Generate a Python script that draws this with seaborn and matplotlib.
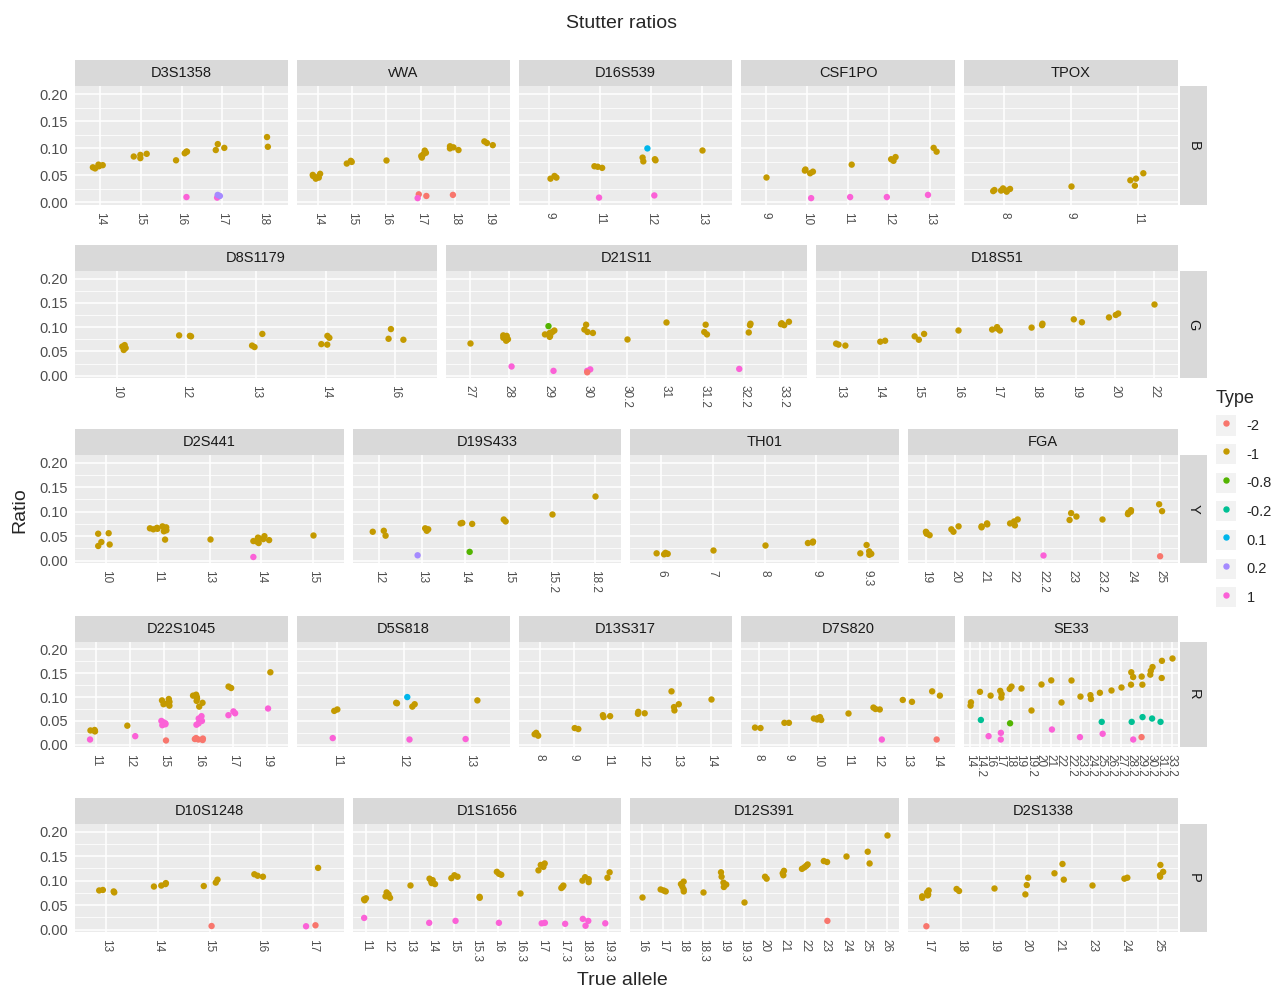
import numpy as np
import pandas as pd
import matplotlib
matplotlib.use("Agg")
import matplotlib.pyplot as plt
import matplotlib.patches as mpatches
from matplotlib.lines import Line2D
from matplotlib.ticker import NullLocator
import seaborn as sns

# ---------------------------------------------------------------- data
# stutter type levels and their hue colours
TYPES = ["-2", "-1", "-0.8", "-0.2", "0.1", "0.2", "1"]
TYPE_COLORS = ["#F8766D", "#C49A00", "#53B400", "#00C094", "#00B6EB", "#A58AFF", "#FB61D7"]

# dye channel of each row and the markers typed in it
DYES = ["B", "G", "Y", "R", "P"]
ROW_MARKERS = [
    ["D3S1358", "vWA", "D16S539", "CSF1PO", "TPOX"],
    ["D8S1179", "D21S11", "D18S51"],
    ["D2S441", "D19S433", "TH01", "FGA"],
    ["D22S1045", "D5S818", "D13S317", "D7S820", "SE33"],
    ["D10S1248", "D1S1656", "D12S391", "D2S1338"],
]

# observed stutter ratios: true allele -> stutter type -> ratios
D3S1358 = {
    "14": {"-1": [0.063, 0.065, 0.067, 0.069, 0.070]},
    "15": {"-1": [0.082, 0.085, 0.088, 0.090]},
    "16": {"-1": [0.094, 0.091, 0.078, 0.094], "1": [0.010]},
    "17": {"-1": [0.108, 0.101, 0.097], "1": [0.009], "0.2": [0.012, 0.014]},
    "18": {"-1": [0.121, 0.103]},
}
vWA = {
    "14": {"-1": [0.044, 0.047, 0.049, 0.051, 0.053, 0.046]},
    "15": {"-1": [0.072, 0.075, 0.077]},
    "16": {"-1": [0.079]},
    "17": {"-1": [0.096, 0.089, 0.083, 0.086, 0.092], "-2": [0.012, 0.015], "1": [0.008]},
    "18": {"-1": [0.097, 0.100, 0.102, 0.104], "-2": [0.014]},
    "19": {"-1": [0.113, 0.110, 0.106]},
}
D16S539 = {
    "9": {"-1": [0.046, 0.049, 0.044]},
    "11": {"-1": [0.064, 0.066, 0.067], "1": [0.009]},
    "12": {"-1": [0.080, 0.076, 0.083, 0.078], "0.1": [0.100], "1": [0.013]},
    "13": {"-1": [0.097]},
}
CSF1PO = {
    "9": {"-1": [0.048]},
    "10": {"-1": [0.054, 0.057, 0.061, 0.059], "1": [0.008]},
    "11": {"-1": [0.070], "1": [0.010]},
    "12": {"-1": [0.077, 0.080, 0.084], "1": [0.010]},
    "13": {"-1": [0.101, 0.094], "1": [0.014]},
}
TPOX = {
    "8": {"-1": [0.020, 0.022, 0.024, 0.023, 0.021, 0.025, 0.026, 0.022]},
    "9": {"-1": [0.030]},
    "11": {"-1": [0.054, 0.044, 0.031, 0.041]},
}
D8S1179 = {
    "10": {"-1": [0.053, 0.063, 0.060, 0.057]},
    "12": {"-1": [0.082, 0.081, 0.083]},
    "13": {"-1": [0.086, 0.062, 0.059]},
    "14": {"-1": [0.065, 0.064, 0.078, 0.082]},
    "16": {"-1": [0.096, 0.076, 0.074]},
}
D21S11 = {
    "27": {"-1": [0.067]},
    "28": {"-1": [0.072, 0.075, 0.078, 0.080, 0.083, 0.082], "1": [0.019]},
    "29": {"-1": [0.093, 0.088, 0.085, 0.082, 0.080, 0.090], "-0.8": [0.102], "1": [0.010]},
    "30": {"-1": [0.105, 0.095, 0.090, 0.088], "1": [0.013, 0.010], "-2": [0.007]},
    "30.2": {"-1": [0.076]},
    "31": {"-1": [0.111]},
    "31.2": {"-1": [0.085, 0.090, 0.105]},
    "32.2": {"-1": [0.107, 0.104, 0.089], "1": [0.014]},
    "33.2": {"-1": [0.104, 0.108, 0.111, 0.106]},
}
D18S51 = {
    "13": {"-1": [0.062, 0.066, 0.064]},
    "14": {"-1": [0.072, 0.070]},
    "15": {"-1": [0.086, 0.074, 0.081]},
    "16": {"-1": [0.095]},
    "17": {"-1": [0.093, 0.097, 0.100, 0.095]},
    "18": {"-1": [0.099, 0.104, 0.107]},
    "19": {"-1": [0.110, 0.116]},
    "20": {"-1": [0.120, 0.125, 0.128]},
    "22": {"-1": [0.148]},
}
D2S441 = {
    "10": {"-1": [0.056, 0.055, 0.038, 0.033, 0.030]},
    "11": {"-1": [0.060, 0.062, 0.064, 0.066, 0.068, 0.070, 0.067, 0.065, 0.043]},
    "13": {"-1": [0.044]},
    "14": {"-1": [0.036, 0.040, 0.044, 0.047, 0.050, 0.042, 0.046, 0.039], "1": [0.0075]},
    "15": {"-1": [0.053]},
}
D19S433 = {
    "12": {"-1": [0.061, 0.059, 0.051]},
    "13": {"-1": [0.066, 0.064, 0.061], "0.2": [0.011]},
    "14": {"-1": [0.076, 0.075, 0.077], "-0.8": [0.018]},
    "15": {"-1": [0.084, 0.080]},
    "15.2": {"-1": [0.095]},
    "18.2": {"-1": [0.132]},
}
TH01 = {
    "6": {"-1": [0.013, 0.015, 0.016, 0.014]},
    "7": {"-1": [0.022]},
    "8": {"-1": [0.032]},
    "9": {"-1": [0.039, 0.037, 0.036]},
    "9.3": {"-1": [0.032, 0.015, 0.012, 0.014, 0.019]},
}
FGA = {
    "19": {"-1": [0.055, 0.057, 0.052, 0.059]},
    "20": {"-1": [0.070, 0.059, 0.064]},
    "21": {"-1": [0.070, 0.074, 0.068, 0.076]},
    "22": {"-1": [0.084, 0.080, 0.076, 0.072]},
    "22.2": {"1": [0.011]},
    "23": {"-1": [0.097, 0.090, 0.083]},
    "23.2": {"-1": [0.086]},
    "24": {"-1": [0.098, 0.100, 0.103, 0.095]},
    "25": {"-1": [0.115, 0.101], "-2": [0.009]},
}
D22S1045 = {
    "11": {"-1": [0.030, 0.029, 0.031, 0.028], "1": [0.011]},
    "12": {"-1": [0.040], "1": [0.018]},
    "15": {"-1": [0.096, 0.090, 0.087, 0.085, 0.082, 0.093],
           "1": [0.043, 0.045, 0.047, 0.050, 0.041], "-2": [0.009]},
    "16": {"-1": [0.105, 0.100, 0.097, 0.092, 0.088, 0.080, 0.103],
           "1": [0.060, 0.055, 0.050, 0.045, 0.042],
           "-2": [0.010, 0.012, 0.014, 0.011, 0.013]},
    "17": {"-1": [0.122, 0.119], "1": [0.070, 0.066, 0.062]},
    "19": {"-1": [0.152], "1": [0.076]},
}
D5S818 = {
    "11": {"-1": [0.074, 0.071], "1": [0.014]},
    "12": {"-1": [0.080, 0.085, 0.088, 0.087], "0.1": [0.100], "1": [0.011]},
    "13": {"-1": [0.093], "1": [0.012]},
}
D13S317 = {
    "8": {"-1": [0.025, 0.022, 0.019]},
    "9": {"-1": [0.035, 0.033]},
    "11": {"-1": [0.062, 0.058, 0.060]},
    "12": {"-1": [0.066, 0.069, 0.065]},
    "13": {"-1": [0.112, 0.085, 0.072, 0.079]},
    "14": {"-1": [0.096]},
}
D7S820 = {
    "8": {"-1": [0.035, 0.036]},
    "9": {"-1": [0.046, 0.046]},
    "10": {"-1": [0.055, 0.058, 0.052, 0.056, 0.053]},
    "11": {"-1": [0.067]},
    "12": {"-1": [0.074, 0.078, 0.075], "1": [0.011]},
    "13": {"-1": [0.090, 0.094]},
    "14": {"-1": [0.112, 0.103], "-2": [0.011]},
}
SE33 = {
    "14": {"-1": [0.089, 0.082]},
    "14.2": {"-1": [0.111], "-0.2": [0.052]},
    "16": {"-1": [0.103], "1": [0.018]},
    "17": {"-1": [0.113, 0.106, 0.099], "1": [0.025, 0.011]},
    "18": {"-1": [0.122, 0.117], "-0.8": [0.045]},
    "19": {"-1": [0.119]},
    "19.2": {"-1": [0.072]},
    "20": {"-1": [0.128]},
    "21": {"-1": [0.135], "1": [0.032]},
    "22": {"-1": [0.090]},
    "22.2": {"-1": [0.136]},
    "23.2": {"-1": [0.101], "1": [0.016]},
    "24.2": {"-1": [0.104, 0.096]},
    "25.2": {"-1": [0.109], "-0.2": [0.048], "1": [0.023]},
    "26.2": {"-1": [0.115]},
    "27.2": {"-1": [0.121]},
    "28.2": {"-1": [0.126, 0.142, 0.152], "-0.2": [0.048], "1": [0.011]},
    "29.2": {"-1": [0.126, 0.143], "-0.2": [0.058], "-2": [0.016]},
    "30.2": {"-1": [0.163, 0.155, 0.147], "-0.2": [0.055]},
    "31.2": {"-1": [0.176, 0.140], "-0.2": [0.048]},
    "33.2": {"-1": [0.181]},
}
D10S1248 = {
    "13": {"-1": [0.078, 0.080, 0.076, 0.081]},
    "14": {"-1": [0.088, 0.093, 0.095, 0.090]},
    "15": {"-1": [0.102, 0.089, 0.096], "-2": [0.0075]},
    "16": {"-1": [0.110, 0.108, 0.113]},
    "17": {"-1": [0.126], "-2": [0.009], "1": [0.007]},
}
D1S1656 = {
    "11": {"-1": [0.062, 0.060, 0.064], "1": [0.024]},
    "12": {"-1": [0.076, 0.072, 0.068, 0.065]},
    "13": {"-1": [0.092]},
    "14": {"-1": [0.095, 0.098, 0.101, 0.104, 0.093], "1": [0.014]},
    "15": {"-1": [0.111, 0.108, 0.105], "1": [0.018]},
    "15.3": {"-1": [0.067, 0.065]},
    "16": {"-1": [0.118, 0.114, 0.112], "1": [0.014]},
    "16.3": {"-1": [0.075]},
    "17": {"-1": [0.135, 0.128, 0.121, 0.132], "1": [0.014, 0.013]},
    "17.3": {"-1": [0.090, 0.087, 0.085], "1": [0.012]},
    "18.3": {"-1": [0.107, 0.103, 0.100, 0.097], "1": [0.022, 0.018, 0.008]},
    "19.3": {"-1": [0.117, 0.106], "1": [0.013]},
}
D12S391 = {
    "16": {"-1": [0.067]},
    "17": {"-1": [0.078, 0.080, 0.082]},
    "18": {"-1": [0.098, 0.093, 0.088, 0.082, 0.078]},
    "18.3": {"-1": [0.077]},
    "19": {"-1": [0.117, 0.108, 0.096, 0.087, 0.092]},
    "19.3": {"-1": [0.057]},
    "20": {"-1": [0.108, 0.104]},
    "21": {"-1": [0.120, 0.115, 0.111]},
    "22": {"-1": [0.124, 0.127, 0.130, 0.133]},
    "23": {"-1": [0.140, 0.138], "-2": [0.018]},
    "24": {"-1": [0.150]},
    "25": {"-1": [0.159, 0.135]},
    "26": {"-1": [0.194]},
}
D2S1338 = {
    "17": {"-1": [0.080, 0.076, 0.072, 0.068, 0.065, 0.070], "-2": [0.007]},
    "18": {"-1": [0.083, 0.079]},
    "19": {"-1": [0.086]},
    "20": {"-1": [0.106, 0.091, 0.072]},
    "21": {"-1": [0.134, 0.115, 0.102]},
    "23": {"-1": [0.092]},
    "24": {"-1": [0.106, 0.104]},
    "25": {"-1": [0.132, 0.118, 0.111, 0.108]},
}

MARKER_DATA = {
    "D3S1358": D3S1358, "vWA": vWA, "D16S539": D16S539, "CSF1PO": CSF1PO, "TPOX": TPOX,
    "D8S1179": D8S1179, "D21S11": D21S11, "D18S51": D18S51,
    "D2S441": D2S441, "D19S433": D19S433, "TH01": TH01, "FGA": FGA,
    "D22S1045": D22S1045, "D5S818": D5S818, "D13S317": D13S317, "D7S820": D7S820, "SE33": SE33,
    "D10S1248": D10S1248, "D1S1656": D1S1656, "D12S391": D12S391, "D2S1338": D2S1338,
}

Y_TICKS = [0.00, 0.05, 0.10, 0.15, 0.20]
Y_MINOR = [0.025, 0.075, 0.125, 0.175]

# ---------------------------------------------------------------- layout (pixels)
W, H, DPI = 1282, 988, 100
PANEL_X = {
    5: [(75, 288), (297, 510), (519, 732), (741, 955), (964, 1178)],
    3: [(75, 437), (446, 807), (816, 1178)],
    4: [(75, 344), (353, 621), (630, 899), (908, 1178)],
}
ROW_Y = [(86, 205), (271, 378), (455, 563), (642, 747), (824, 932)]
STRIP_H = 26
RSTRIP_X = (1180, 1207)
Y_LIM = (-0.0047, 0.2155)

sns.set_style("darkgrid")
plt.rcParams["font.family"] = ["Liberation Sans", "DejaVu Sans"]

PANEL_BG = "#EBEBEB"
STRIP_BG = "#D9D9D9"
TICK_TXT = "#4D4D4D"
TICK_COL = "#333333"
STRIP_TXT = "#1A1A1A"

fig = plt.figure(figsize=(W / DPI, H / DPI), dpi=DPI)
fig.patch.set_facecolor("white")


def px_axes(x0, y0, x1, y1):
    return fig.add_axes([x0 / W, 1 - y1 / H, (x1 - x0) / W, (y1 - y0) / H])


def to_frame(obs):
    rows = [(allele, t, v) for allele, d in obs.items() for t, vals in d.items() for v in vals]
    return pd.DataFrame(rows, columns=["allele", "type", "ratio"])


def strip_box(x0, y0, x1, y1, label, rotation=0):
    sa = px_axes(x0, y0, x1, y1)
    sa.set_facecolor(STRIP_BG)
    sa.set_xticks([])
    sa.set_yticks([])
    sa.grid(False)
    for s in sa.spines.values():
        s.set_visible(False)
    sa.text(0.5, 0.5, label, ha="center", va="center", fontsize=10.5,
            color=STRIP_TXT, rotation=rotation, transform=sa.transAxes)


np.random.seed(11)
for r, (markers, dye) in enumerate(zip(ROW_MARKERS, DYES)):
    xs = PANEL_X[len(markers)]
    top, bottom = ROW_Y[r]
    for c, name in enumerate(markers):
        obs = MARKER_DATA[name]
        alleles = list(obs.keys())
        df = to_frame(obs)
        x0, x1 = xs[c]
        ax = px_axes(x0, top, x1, bottom)
        sns.stripplot(data=df, x="allele", y="ratio", hue="type", order=alleles,
                      hue_order=TYPES, palette=TYPE_COLORS, jitter=0.17, size=4.6,
                      linewidth=0, legend=False, ax=ax)
        ax.set_facecolor(PANEL_BG)
        for s in ax.spines.values():
            s.set_visible(False)
        ax.set_xlabel("")
        ax.set_ylabel("")
        ax.set_xlim(-0.6, len(alleles) - 0.4)
        ax.set_ylim(*Y_LIM)
        ax.set_yticks(Y_TICKS)
        ax.set_yticks(Y_MINOR, minor=True)
        ax.set_yticklabels([f"{t:.2f}" for t in Y_TICKS])
        ax.xaxis.set_minor_locator(NullLocator())
        ax.set_axisbelow(True)
        ax.grid(True, which="major", axis="both", color="white", linewidth=1.1)
        ax.grid(True, which="minor", axis="y", color="white", linewidth=0.55)
        ax.tick_params(axis="x", which="major", length=3, width=0.9, color=TICK_COL,
                       labelsize=8.5, labelcolor=TICK_TXT, labelrotation=-90, pad=2)
        ax.tick_params(axis="y", which="major", length=3, width=0.9, color=TICK_COL,
                       labelsize=10.5, labelcolor=TICK_TXT, pad=2)
        ax.tick_params(axis="y", which="minor", length=0)
        if c > 0:
            ax.tick_params(axis="y", which="both", left=False, labelleft=False)
        strip_box(x0, top - STRIP_H, x1, top, name)
    strip_box(RSTRIP_X[0], top, RSTRIP_X[1], bottom, dye, rotation=-90)

# titles
fig.text(622 / W, 1 - 24 / H, "Stutter ratios", ha="center", va="center", fontsize=14)
fig.text(20 / W, 1 - 510 / H, "Ratio", ha="center", va="center", rotation=90, fontsize=14)
fig.text(622 / W, 1 - 980 / H, "True allele", ha="center", va="center", fontsize=14)

# legend for stutter type
handles = [(mpatches.Patch(facecolor="#F2F2F2", edgecolor="none"),
            Line2D([0], [0], marker="o", color=col, linestyle="none", markersize=3.6))
           for col in TYPE_COLORS]
fig.legend(handles, TYPES, title="Type", loc="upper left",
           bbox_to_anchor=(1216 / W, 1 - 390 / H), frameon=False, fontsize=10.5,
           title_fontsize=13, handlelength=1.35, handleheight=1.75, labelspacing=0.58,
           handletextpad=0.75, borderpad=0, borderaxespad=0, alignment="left")

fig.savefig("out.png", dpi=DPI)
